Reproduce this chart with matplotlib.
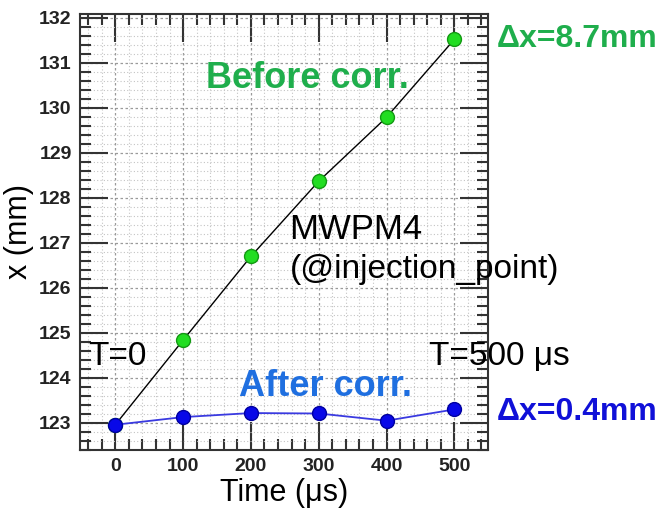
import matplotlib
matplotlib.use('Agg')
import matplotlib.pyplot as plt
from matplotlib.ticker import MultipleLocator

# Data
time_us = [0, 100, 200, 300, 400, 500]
x_before = [122.96, 124.84, 126.70, 128.37, 129.79, 131.52]
x_after = [122.96, 123.13, 123.22, 123.21, 123.05, 123.30]

GREEN = '#1fae4c'
BLUE_TXT = '#1f6fe0'
BLUE_DX = '#1010d8'

plt.rcParams['font.family'] = ['Liberation Sans', 'DejaVu Sans']

fig = plt.figure(figsize=(6.67, 5.09), dpi=100)
ax = fig.add_axes([0.12, 0.116, 0.612, 0.857])

# Grid: dotted at every minor position
ax.xaxis.set_major_locator(MultipleLocator(100))
ax.xaxis.set_minor_locator(MultipleLocator(20))
ax.yaxis.set_major_locator(MultipleLocator(1))
ax.yaxis.set_minor_locator(MultipleLocator(0.2))
ax.grid(which='minor', color='#c4c4c4', linestyle=(0, (1, 2)), linewidth=0.8)
ax.grid(which='major', color='#9a9a9a', linestyle=(0, (2, 2)), linewidth=0.9)
ax.set_axisbelow(True)

ax.plot(time_us, x_before, color='black', linewidth=1.0, zorder=3,
        marker='o', markersize=10, markerfacecolor='#22dd22',
        markeredgecolor='#139a13', markeredgewidth=1.0)
ax.plot(time_us, x_after, color='#3a3ae0', linewidth=1.3, zorder=3,
        marker='o', markersize=10, markerfacecolor='#0808e8',
        markeredgecolor='#0000a0', markeredgewidth=1.0)

ax.set_xlim(-52, 550)
ax.set_ylim(122.4, 132.09)

ax.tick_params(which='both', direction='in', top=True, right=True, width=1.5, color='#333333')
ax.tick_params(which='major', length=20, labelsize=14, pad=6)
ax.tick_params(which='minor', length=8)
for lbl in ax.get_xticklabels() + ax.get_yticklabels():
    lbl.set_fontweight('bold')
    lbl.set_color('#222222')
for s in ax.spines.values():
    s.set_linewidth(1.5)
    s.set_color('#333333')

ax.set_xlabel('Time (μs)', fontsize=22, labelpad=2)
ax.set_ylabel('x (mm)', fontsize=22, labelpad=4)

# Annotations
ax.text(283, 130.65, 'Before corr.', color=GREEN, fontsize=26, fontweight='bold',
        ha='center', va='center')
ax.text(310, 123.82, 'After corr.', color=BLUE_TXT, fontsize=26, fontweight='bold',
        ha='center', va='center')
ax.text(257, 127.29, 'MWPM4', fontsize=25, ha='left', va='center')
ax.text(257, 126.4, '(@injection_point)', fontsize=24, ha='left', va='center', clip_on=False)
ax.text(-40, 124.47, 'T=0', fontsize=24, ha='left', va='center')
ax.text(462, 124.47, 'T=500 μs', fontsize=24, ha='left', va='center', clip_on=False)
ax.text(563, 131.52, 'Δx=8.7mm', color=GREEN, fontsize=23, fontweight='bold',
        ha='left', va='center', clip_on=False)
ax.text(563, 123.24, 'Δx=0.4mm', color=BLUE_DX, fontsize=23, fontweight='bold',
        ha='left', va='center', clip_on=False)

fig.savefig('out.png', dpi=100)
